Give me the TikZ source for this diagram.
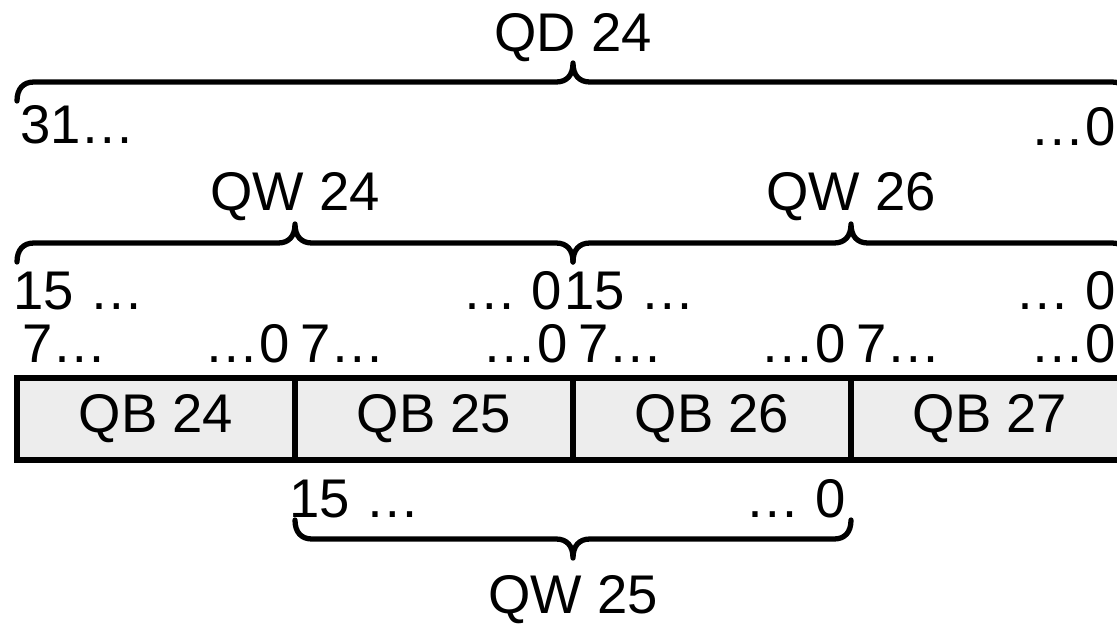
\documentclass[tikz,border=0pt]{standalone}
\usepackage{fontspec}
\setmainfont{Liberation Sans}

% brace over (up=1) or under (up=-1) a span: left x, right x, end y, direction
\newcommand{\regbrace}[4]{%
  \draw[brace line] (#1,#3)
    .. controls ({#1},{#3+(#4)*0.24}) and ({#1+0.12},{#3+(#4)*0.38}) .. ({#1+0.34},{#3+(#4)*0.38})
    -- ({(#1+#2)/2-0.34},{#3+(#4)*0.38})
    .. controls ({(#1+#2)/2-0.12},{#3+(#4)*0.38}) and ({(#1+#2)/2},{#3+(#4)*0.52}) .. ({(#1+#2)/2},{#3+(#4)*0.76})
    .. controls ({(#1+#2)/2},{#3+(#4)*0.52}) and ({(#1+#2)/2+0.12},{#3+(#4)*0.38}) .. ({(#1+#2)/2+0.34},{#3+(#4)*0.38})
    -- ({#2-0.34},{#3+(#4)*0.38})
    .. controls ({#2-0.12},{#3+(#4)*0.38}) and ({#2},{#3+(#4)*0.24}) .. (#2,#3);
}

\begin{document}
\begin{tikzpicture}[font=\fontsize{31}{37}\selectfont,
  byte/.style={rectangle,draw,line width=3pt,fill=black!7,inner sep=0pt,
    minimum width=5.56cm,minimum height=1.64cm},
  bit/.style={inner sep=0pt},
  brace line/.style={line width=3pt,line cap=round,line join=round}]
  \useasboundingbox (0,0) rectangle (22.34,-12.46);

  % the four bytes
  \node[byte] (qb24) at (3.12,-8.38) {QB 24};
  \node[byte] (qb25) at (8.68,-8.38) {QB 25};
  \node[byte] (qb26) at (14.24,-8.38) {QB 26};
  \node[byte] (qb27) at (19.80,-8.38) {QB 27};

  % bit numbers of each byte
  \node[bit,anchor=base west] (b24h) at (0.44,-7.24) {7…};
  \node[bit,anchor=base east] (b24l) at (5.80,-7.24) {…0};
  \node[bit,anchor=base west] (b25h) at (6.00,-7.24) {7…};
  \node[bit,anchor=base east] (b25l) at (11.36,-7.24) {…0};
  \node[bit,anchor=base west] (b26h) at (11.56,-7.24) {7…};
  \node[bit,anchor=base east] (b26l) at (16.92,-7.24) {…0};
  \node[bit,anchor=base west] (b27h) at (17.12,-7.24) {7…};
  \node[bit,anchor=base east] (b27l) at (22.32,-7.24) {…0};

  % words QW 24 and QW 26
  \node[bit,anchor=base west] (w24h) at (0.26,-6.18) {15 …};
  \node[bit,anchor=base east] (w24l) at (11.25,-6.18) {… 0};
  \node[bit,anchor=base west] (w26h) at (11.28,-6.18) {15 …};
  \node[bit,anchor=base east] (w26l) at (22.32,-6.18) {… 0};
  \regbrace{0.34}{11.46}{-5.24}{1}
  \regbrace{11.46}{22.58}{-5.24}{1}
  \node[bit,anchor=base] (qw24) at (5.90,-4.20) {QW 24};
  \node[bit,anchor=base] (qw26) at (17.02,-4.20) {QW 26};

  % double word QD 24
  \node[bit,anchor=base west] (d24h) at (0.40,-2.86) {31…};
  \node[bit,anchor=base east] (d24l) at (22.32,-2.90) {…0};
  \regbrace{0.34}{22.58}{-2.02}{1}
  \node[bit,anchor=base] (qd24) at (11.46,-1.02) {QD 24};

  % word QW 25 below
  \node[bit,anchor=base west] (w25h) at (5.78,-10.34) {15 …};
  \node[bit,anchor=base east] (w25l) at (16.92,-10.34) {… 0};
  \regbrace{5.90}{17.02}{-10.40}{-1}
  \node[bit,anchor=base] (qw25) at (11.46,-12.26) {QW 25};
\end{tikzpicture}
\end{document}
